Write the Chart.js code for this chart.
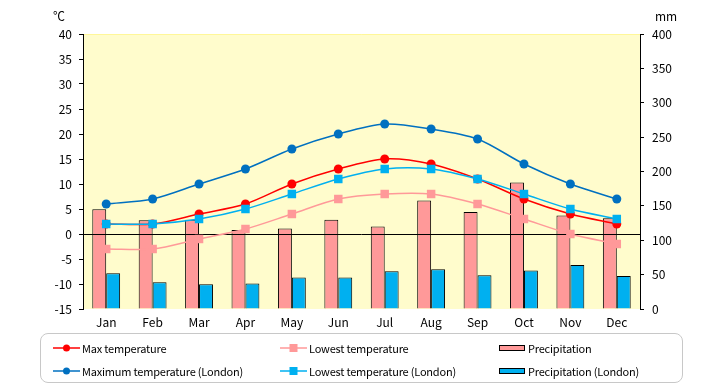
<!DOCTYPE html>
<html><head><meta charset="utf-8">
<script src="https://cdn.jsdelivr.net/npm/chart.js@4.4.1/dist/chart.umd.min.js"></script>
<style>
html,body{margin:0;padding:0;background:#fff;}
#wrap{position:relative;width:720px;height:385px;}
#legend{position:absolute;left:40px;top:333px;width:641px;height:48px;border:1px solid #c8c8c8;border-radius:8px;font-family:"Noto Sans CJK JP","DejaVu Sans",sans-serif;font-size:11px;color:#000;letter-spacing:-0.2px;}
.item{position:absolute;height:16px;line-height:16px;white-space:nowrap;}
.item canvas{vertical-align:middle;}
.item span{vertical-align:middle;}
</style></head>
<body><div id="wrap"><canvas id="c" width="720" height="385"></canvas><div id="legend"></div></div>
<script>
const months = ["Jan","Feb","Mar","Apr","May","Jun","Jul","Aug","Sep","Oct","Nov","Dec"];
const maxTemp = [2,2,4,6,10,13,15,14,11,7,4,2];
const lowTemp = [-3,-3,-1,1,4,7,8,8,6,3,0,-2];
const precip = [145,129,130,115,117,130,120,158,141,184,136,132];
const maxTempLondon = [6,7,10,13,17,20,22,21,19,14,10,7];
const lowTempLondon = [2,2,3,5,8,11,13,13,11,8,5,3];
const precipLondon = [52,39,36,37,46,46,55,58,49,56,64,48];
const tempTicks = [-15,-10,-5,0,5,10,15,20,25,30,35,40];
const precipTicks = [0,50,100,150,200,250,300,350,400];

const FONT = "'Noto Sans CJK JP','DejaVu Sans',sans-serif";

const bgPlugin = {
  id:'bg',
  beforeDraw(chart){
    const {ctx, chartArea:a} = chart;
    ctx.save();
    ctx.fillStyle = '#FFFCCC';
    ctx.fillRect(a.left, a.top, a.right-a.left, a.bottom-a.top);
    ctx.strokeStyle = '#FFF799';
    ctx.lineWidth = 1;
    ctx.beginPath(); ctx.moveTo(a.left, a.top+0.5); ctx.lineTo(a.right, a.top+0.5); ctx.stroke();
    ctx.restore();
    chart._zeroDone = false;
  },
  beforeDatasetDraw(chart, args){
    if (args.meta.type === 'line' && !chart._zeroDone) {
      chart._zeroDone = true;
      const {ctx, chartArea:a} = chart;
      const y = Math.round(chart.scales.y.getPixelForValue(0)) + 0.5;
      ctx.save();
      ctx.strokeStyle = '#000'; ctx.lineWidth = 1;
      ctx.beginPath(); ctx.moveTo(a.left, y); ctx.lineTo(a.right, y); ctx.stroke();
      ctx.restore();
    }
  },
  afterDraw(chart){
    const ctx = chart.ctx;
    ctx.save();
    ctx.fillStyle = '#000';
    ctx.font = '12px ' + FONT;
    ctx.textBaseline = 'middle';
    ctx.textAlign = 'left';
    ctx.fillText('℃', 53, 16);
    ctx.fillText('mm', 655, 16);
    ctx.restore();
  }
};

const datasets = [
  {type:'bar', label:'Precipitation', data:precip, yAxisID:'y1', backgroundColor:'#FF9999', borderColor:'#000', borderWidth:1, order:10},
  {type:'bar', label:'Precipitation (London)', data:precipLondon, yAxisID:'y1', backgroundColor:'#00B0F0', borderColor:'#000', borderWidth:1, order:10},
  {type:'line', label:'Max temperature', data:maxTemp, yAxisID:'y', borderColor:'#FF0000', backgroundColor:'#FF0000', borderWidth:1.5, pointStyle:'circle', pointRadius:4.5, pointBorderWidth:0, tension:0.3, order:2},
  {type:'line', label:'Lowest temperature', data:lowTemp, yAxisID:'y', borderColor:'#FF9999', backgroundColor:'#FF9999', borderWidth:1.5, pointStyle:'rect', pointRadius:6, pointBorderWidth:0, tension:0.3, order:3},
  {type:'line', label:'Maximum temperature (London)', data:maxTempLondon, yAxisID:'y', borderColor:'#0070C0', backgroundColor:'#0070C0', borderWidth:1.5, pointStyle:'circle', pointRadius:4.5, pointBorderWidth:0, tension:0.3, order:1},
  {type:'line', label:'Lowest temperature (London)', data:lowTempLondon, yAxisID:'y', borderColor:'#00B0F0', backgroundColor:'#00B0F0', borderWidth:1.5, pointStyle:'rect', pointRadius:6, pointBorderWidth:0, tension:0.3, order:0}
];

new Chart(document.getElementById('c'), {
  data:{labels:months, datasets},
  options:{
    responsive:false, animation:false, devicePixelRatio:1,
    layout:{padding:{top:34,left:0,right:0,bottom:0}},
    plugins:{legend:{display:false}, tooltip:{enabled:false}},
    datasets:{bar:{categoryPercentage:0.6, barPercentage:1.0}},
    scales:{
      x:{offset:true, grid:{display:false}, border:{display:false},
         ticks:{color:'#000', font:{family:FONT, size:12}, padding:-2, maxRotation:0},
         afterFit(s){ s.height = 76; }},
      y:{position:'left', min:-15, max:40,
         afterBuildTicks(s){ s.ticks = tempTicks.map(v=>({value:v})); },
         grid:{drawOnChartArea:false, tickLength:4, tickColor:'#000', color:'#000'},
         border:{display:true, color:'#000', width:1},
         ticks:{color:'#000', font:{family:FONT, size:12}, padding:7},
         afterFit(s){ s.width = 83; }},
      y1:{position:'right', min:0, max:400,
         afterBuildTicks(s){ s.ticks = precipTicks.map(v=>({value:v})); },
         grid:{drawOnChartArea:false, tickLength:4, tickColor:'#000', color:'#000'},
         border:{display:true, color:'#000', width:1},
         ticks:{color:'#000', font:{family:FONT, size:12}, padding:8},
         afterFit(s){ s.width = 80; }}
    }
  },
  plugins:[bgPlugin]
});

// HTML legend built from the datasets
const legend = document.getElementById('legend');
const pos = {
  'Max temperature':[11,4], 'Maximum temperature (London)':[11,27],
  'Lowest temperature':[238,4], 'Lowest temperature (London)':[238,27],
  'Precipitation':[457,4], 'Precipitation (London)':[457,27]
};
datasets.forEach(d=>{
  const div = document.createElement('div');
  div.className='item';
  const p = pos[d.label];
  div.style.left = p[0]+'px'; div.style.top = p[1]+'px';
  const cv = document.createElement('canvas');
  cv.width = 29; cv.height = 14;
  const g = cv.getContext('2d');
  if (d.type==='bar') {
    g.fillStyle = d.backgroundColor; g.fillRect(1,5,26,4);
    g.strokeStyle='#000'; g.lineWidth=1; g.strokeRect(1.5,4.5,25,5);
  } else {
    g.strokeStyle = d.borderColor; g.lineWidth = 1.5;
    g.beginPath(); g.moveTo(1,7); g.lineTo(28,7); g.stroke();
    g.fillStyle = d.backgroundColor;
    if (d.pointStyle==='rect') g.fillRect(10.5,3,8,8);
    else { g.beginPath(); g.arc(14.5,7,3.5,0,Math.PI*2); g.fill(); }
  }
  div.appendChild(cv);
  const sp = document.createElement('span');
  sp.textContent = d.label;
  sp.style.marginLeft = '1px';
  div.appendChild(sp);
  legend.appendChild(div);
});
</script></body></html>
